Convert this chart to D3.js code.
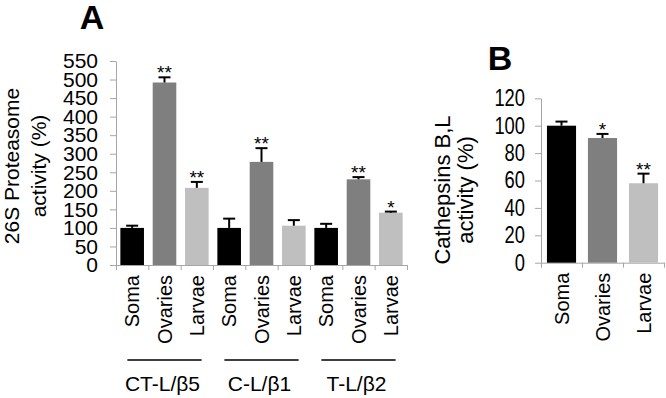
<!DOCTYPE html>
<html>
<head>
<meta charset="utf-8">
<script src="https://cdn.jsdelivr.net/npm/d3@7"></script>
<style>
    body { margin: 0; background: #fff; }
    svg { display: block; font-family: "Liberation Sans", Arial, sans-serif; }
    .axis path, .axis line { stroke: #a6a6a6; stroke-width: 1; }
    .axis text { fill: #000; }
</style>
</head>
<body>
<svg id="chart" width="666" height="398"></svg>
<script>
// data
const tissues = ["Soma", "Ovaries", "Larvae"];
const assays = ["CT-L/β5", "C-L/β1", "T-L/β2"];
const tissueColors = ["#000000", "#7f7f7f", "#bfbfbf"];

const proteasomeValues = [100, 492, 208, 100, 278, 106, 100, 231, 141];
const proteasomeErrors = [6, 14, 16, 25, 37, 15, 11, 6, 3];
const proteasomeStars = ["", "**", "**", "", "**", "", "", "**", "*"];
const proteasomeTicks = [0, 50, 100, 150, 200, 250, 300, 350, 400, 450, 500, 550];

const cathepsinValues = [100, 91, 58];
const cathepsinErrors = [3, 3, 7];
const cathepsinStars = ["", "*", "**"];
const cathepsinTicks = [0, 20, 40, 60, 80, 100, 120];

class Barchart {
    constructor(_config, _data) {
        this.config = {
            parentElement: _config.parentElement,
            left: _config.left,
            top: _config.top,
            width: _config.width,
            height: _config.height,
            yMax: _config.yMax,
            yTicks: _config.yTicks,
            tickFontSize: _config.tickFontSize,
            tickDigitWidth: _config.tickDigitWidth,
            tickSize: _config.tickSize,
            tickPadding: _config.tickPadding,
            barPadding: _config.barPadding,
            capHalf: 6,
            yTitle: _config.yTitle,
            yTitleX: _config.yTitleX,
            yTitleY: _config.yTitleY,
            yTitleSize: _config.yTitleSize,
            letter: _config.letter,
            letterX: _config.letterX,
            letterY: _config.letterY,
            groups: _config.groups || []
        }
        this.data = _data;
        this.initVis();
    }

    initVis() {
        let vis = this;
        const c = vis.config;

        vis.root = d3.select(c.parentElement);
        vis.svg = vis.root.append("g")
            .attr("transform", `translate(${c.left},${c.top})`);

        vis.xScale = d3.scaleBand()
            .domain(vis.data.map(d => d.key))
            .range([0, c.width])
            .paddingInner(c.barPadding)
            .paddingOuter(c.barPadding / 2);

        // category boundaries, for the tick marks between bars
        vis.xEdges = d3.scaleLinear()
            .domain([0, vis.data.length])
            .range([0, c.width]);

        vis.yScale = d3.scaleLinear()
            .domain([0, c.yMax])
            .range([c.height, 0]);

        vis.yAxis = d3.axisLeft(vis.yScale)
            .tickValues(c.yTicks)
            .tickSize(c.tickSize)
            .tickSizeOuter(0)
            .tickPadding(c.tickPadding);

        vis.xAxis = d3.axisBottom(vis.xEdges)
            .tickValues(d3.range(vis.data.length + 1))
            .tickFormat("")
            .tickSize(5)
            .tickSizeOuter(0);

        vis.svg.append("g")
            .attr("class", "y-axis axis");

        vis.svg.append("g")
            .attr("class", "x-axis axis")
            .attr("transform", `translate(0,${c.height})`);

        vis.updateVis();
    }

    updateVis() {
        let vis = this;
        const c = vis.config;
        const bw = vis.xScale.bandwidth();

        vis.svg.select(".y-axis").call(vis.yAxis)
            .call(g => g.selectAll("text")
                .style("font-family", '"Liberation Sans", Arial, sans-serif')
                .style("font-size", c.tickFontSize)
                .each(function(d) {
                    // the right-hand panel uses a narrow face
                    if (c.tickDigitWidth) {
                        d3.select(this)
                            .attr("textLength", String(d).length * c.tickDigitWidth)
                            .attr("lengthAdjust", "spacingAndGlyphs");
                    }
                }));
        vis.svg.select(".x-axis").call(vis.xAxis);

        vis.svg.selectAll(".bar")
            .data(vis.data)
            .join("rect")
            .attr("class", "bar")
            .attr("x", d => vis.xScale(d.key))
            .attr("y", d => vis.yScale(d.value))
            .attr("width", bw)
            .attr("height", d => c.height - vis.yScale(d.value))
            .attr("fill", d => d.color);

        // upper error bars
        let err = vis.svg.selectAll(".err")
            .data(vis.data)
            .join("g")
            .attr("class", "err")
            .attr("stroke", "#000")
            .attr("stroke-width", 2);

        err.append("line")
            .attr("x1", d => vis.xScale(d.key) + bw / 2)
            .attr("x2", d => vis.xScale(d.key) + bw / 2)
            .attr("y1", d => vis.yScale(d.value))
            .attr("y2", d => vis.yScale(d.value + d.error));

        err.append("line")
            .attr("x1", d => vis.xScale(d.key) + bw / 2 - c.capHalf)
            .attr("x2", d => vis.xScale(d.key) + bw / 2 + c.capHalf)
            .attr("y1", d => vis.yScale(d.value + d.error))
            .attr("y2", d => vis.yScale(d.value + d.error));

        vis.svg.selectAll(".star")
            .data(vis.data.filter(d => d.star))
            .join("text")
            .attr("class", "star")
            .attr("x", d => vis.xScale(d.key) + bw / 2)
            .attr("y", d => vis.yScale(d.value + d.error) + 2)
            .attr("text-anchor", "middle")
            .style("font-size", "19px")
            .text(d => d.star);

        vis.svg.selectAll(".cat-label")
            .data(vis.data)
            .join("text")
            .attr("class", "cat-label")
            .attr("transform", d => `translate(${vis.xScale(d.key) + bw / 2},${c.height + 10}) rotate(-90)`)
            .attr("text-anchor", "end")
            .attr("dy", "0.35em")
            .style("font-size", "20px")
            .text(d => d.tissue);

        // group brackets under the category labels
        c.groups.forEach(name => {
            let members = vis.data.filter(d => d.group === name);
            let x0 = vis.xScale(members[0].key) + 7;
            let x1 = vis.xScale(members[members.length - 1].key) + bw - 7;
            vis.svg.append("line")
                .attr("x1", x0).attr("x2", x1)
                .attr("y1", c.height + 95).attr("y2", c.height + 95)
                .attr("stroke", "#000")
                .attr("stroke-width", 1.5);
            vis.svg.append("text")
                .attr("x", (x0 + x1) / 2 - 2)
                .attr("y", c.height + 126)
                .attr("text-anchor", "middle")
                .style("font-size", "21px")
                .text(name);
        });

        let title = vis.root.append("g")
            .attr("transform", `translate(0,${c.yTitleY})`);
        c.yTitle.forEach((line, i) => {
            title.append("text")
                .attr("transform", `translate(${c.yTitleX[i]},0) rotate(-90)`)
                .attr("text-anchor", "middle")
                .style("font-size", c.yTitleSize)
                .text(line);
        });

        vis.root.append("text")
            .attr("x", c.letterX)
            .attr("y", c.letterY)
            .attr("text-anchor", "middle")
            .style("font-size", "34px")
            .style("font-weight", "bold")
            .text(c.letter);
    }
}

const proteasomeData = proteasomeValues.map((v, i) => ({
    key: i,
    tissue: tissues[i % 3],
    group: assays[Math.floor(i / 3)],
    color: tissueColors[i % 3],
    value: v,
    error: proteasomeErrors[i],
    star: proteasomeStars[i]
}));

const cathepsinData = cathepsinValues.map((v, i) => ({
    key: i,
    tissue: tissues[i],
    group: "",
    color: tissueColors[i],
    value: v,
    error: cathepsinErrors[i],
    star: cathepsinStars[i]
}));

new Barchart({
    parentElement: "#chart",
    left: 116, top: 61, width: 291, height: 204,
    yMax: 550, yTicks: proteasomeTicks,
    tickFontSize: "21px",
    tickSize: 6, tickPadding: 12, barPadding: 0.27,
    yTitle: ["26S Proteasome", "activity (%)"],
    yTitleX: [19, 46], yTitleY: 166, yTitleSize: "21px",
    letter: "A", letterX: 92, letterY: 29,
    groups: assays
}, proteasomeData);

new Barchart({
    parentElement: "#chart",
    left: 541, top: 98.3, width: 123, height: 164.4,
    yMax: 120, yTicks: cathepsinTicks,
    tickFontSize: "23px", tickDigitWidth: 10.2,
    tickSize: 6, tickPadding: 10, barPadding: 0.29,
    yTitle: ["Cathepsins B,L", "activity (%)"],
    yTitleX: [450, 473], yTitleY: 190, yTitleSize: "22px",
    letter: "B", letterX: 500, letterY: 70
}, cathepsinData);
</script>
</body>
</html>
